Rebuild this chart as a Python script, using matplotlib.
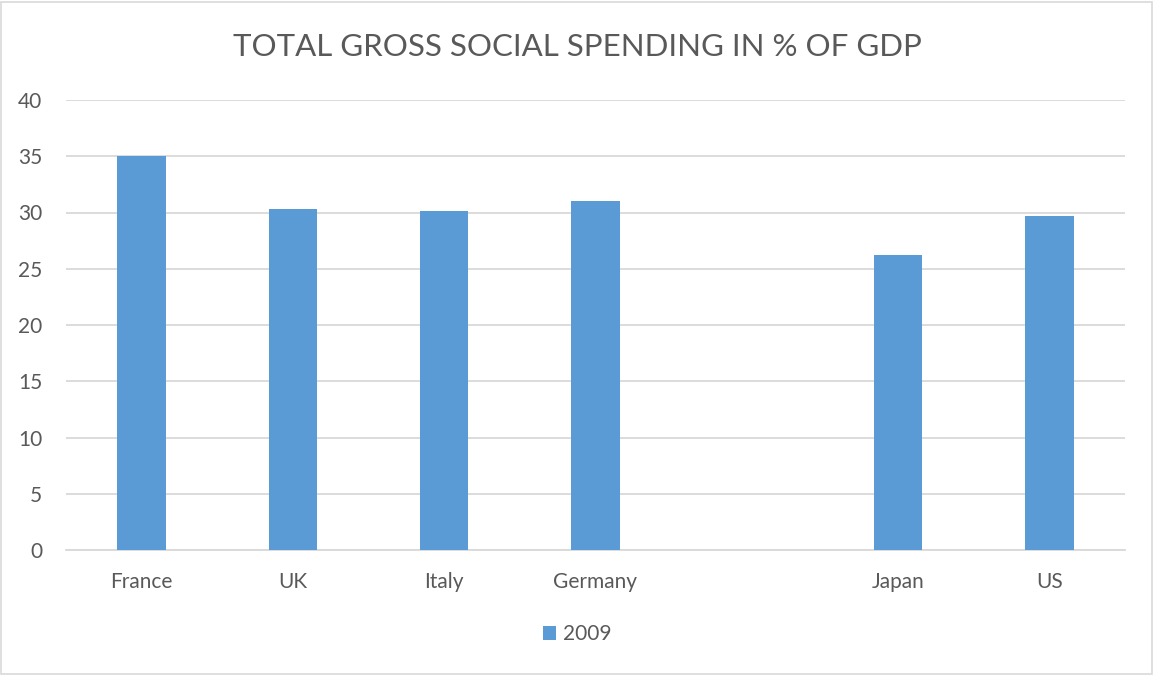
import matplotlib
matplotlib.use("Agg")
import matplotlib.pyplot as plt
from matplotlib.patches import Rectangle

categories = ["France", "UK", "Italy", "Germany", "", "Japan", "US"]
values_2009 = [35.05, 30.35, 30.1, 31.0, None, 26.2, 29.7]
series_name = "2009"
yticks = [0, 5, 10, 15, 20, 25, 30, 35, 40]

plt.rcParams['font.family'] = ['Lato', 'DejaVu Sans']
text_color = "#595959"
bar_color = "#5B9BD5"

fig = plt.figure(figsize=(11.54, 6.75), dpi=100)
fig.patches.append(Rectangle((0.001, 0.002), 0.997, 0.995, transform=fig.transFigure,
                             fill=False, edgecolor="#D9D9D9", linewidth=1.2))
ax = fig.add_axes([66/1154, 1-550/675, (1125-66)/1154, 450/675])

x = list(range(len(categories)))
xs = [i for i, v in zip(x, values_2009) if v is not None]
vs = [v for v in values_2009 if v is not None]
ax.bar(xs, vs, width=0.32, color=bar_color, label=series_name, zorder=3)

ax.set_xlim(-0.5, len(categories) - 0.5)
ax.set_ylim(0, 40)
ax.set_yticks(yticks)
ax.set_xticks(x)
ax.set_xticklabels(categories)
ax.grid(axis='y', color="#D9D9D9", linewidth=1.3, zorder=0)
for s in ["top", "right", "left"]:
    ax.spines[s].set_visible(False)
ax.spines["bottom"].set_color("#D9D9D9")
ax.spines["bottom"].set_linewidth(1.3)
ax.tick_params(axis='both', length=0, labelsize=15, colors=text_color)
ax.tick_params(axis='y', pad=17)
ax.tick_params(axis='x', pad=16)

fig.text(0.5, 1-47/675, "TOTAL GROSS SOCIAL SPENDING IN % OF GDP", ha='center', va='center',
         fontsize=22.5, color=text_color)

leg = fig.legend(loc='center', bbox_to_anchor=(0.5, 1-634/675), frameon=False,
                 fontsize=15, handlelength=0.65, handleheight=0.65, handletextpad=0.3)
for t in leg.get_texts():
    t.set_color(text_color)

fig.savefig("out.png", dpi=100)
